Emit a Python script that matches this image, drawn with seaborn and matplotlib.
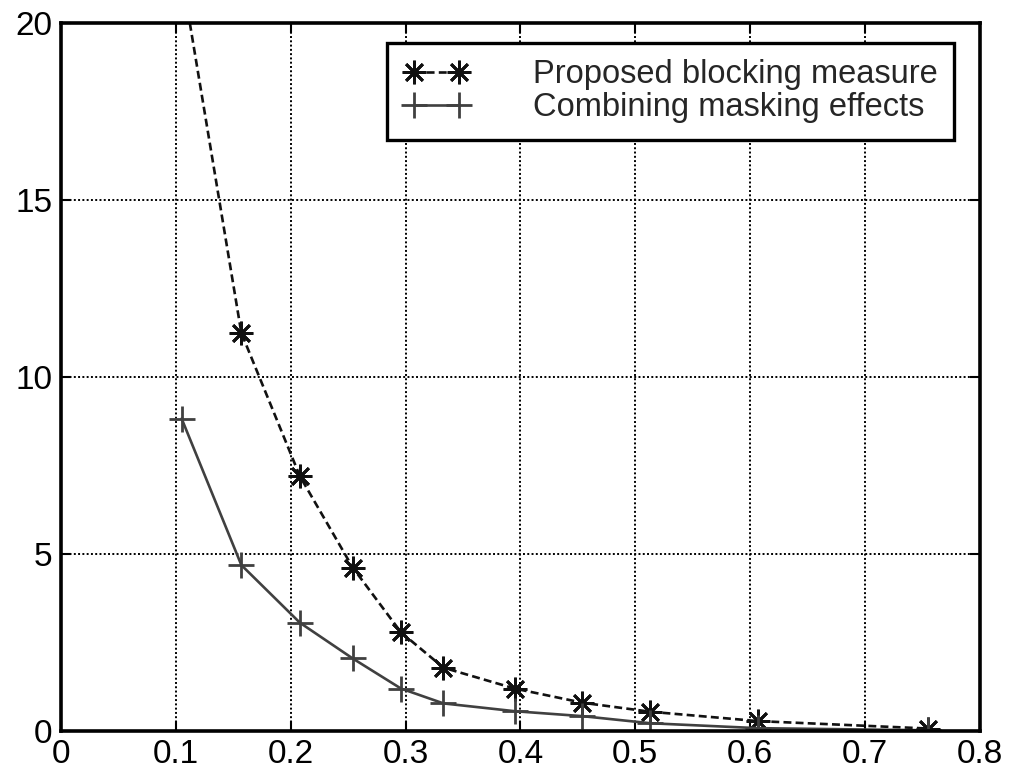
import matplotlib
matplotlib.use("Agg")
import matplotlib.pyplot as plt
import seaborn as sns
import pandas as pd

# Data
x_vals = [0.105, 0.157, 0.208, 0.254, 0.296, 0.333, 0.395, 0.454, 0.513, 0.607, 0.755]
proposed = [21.4, 11.25, 7.2, 4.62, 2.79, 1.79, 1.2, 0.80, 0.545, 0.28, 0.07]
combining = [8.83, 4.69, 3.06, 2.05, 1.2, 0.78, 0.56, 0.42, 0.22, 0.08, 0.02]
series_names = ["Proposed blocking measure", "Combining masking effects"]
x_ticks = [0, 0.1, 0.2, 0.3, 0.4, 0.5, 0.6, 0.7, 0.8]
x_tick_labels = ["0", "0.1", "0.2", "0.3", "0.4", "0.5", "0.6", "0.7", "0.8"]
y_ticks = [0, 5, 10, 15, 20]
y_tick_labels = ["0", "5", "10", "15", "20"]

sns.set_theme(style="white")
plt.rcParams['font.family'] = ['Liberation Sans', 'DejaVu Sans']

fig = plt.figure(figsize=(10.09, 7.78), dpi=100)
ax = fig.add_axes([0.0605, 0.0604, 0.9105, 0.9096])

df1 = pd.DataFrame({"x": x_vals, "y": proposed})
df2 = pd.DataFrame({"x": x_vals, "y": combining})

asterisk = (8, 2, 0)
sns.lineplot(data=df1, x="x", y="y", ax=ax, color="#111111", linewidth=1.9,
             marker=asterisk, markersize=17, markeredgewidth=2.0,
             markeredgecolor="#111111", label=series_names[0], sort=False)
sns.lineplot(data=df2, x="x", y="y", ax=ax, color="#404040", linewidth=1.9,
             marker="+", markersize=19, markeredgewidth=2.0,
             markeredgecolor="#404040", label=series_names[1], sort=False)
ax.lines[0].set_linestyle((0, (3.0, 1.6)))

ax.set_xlim(0, 0.8)
ax.set_ylim(0, 20)
ax.set_xticks(x_ticks)
ax.set_xticklabels(x_tick_labels)
ax.set_yticks(y_ticks)
ax.set_yticklabels(y_tick_labels)
ax.set_xlabel("")
ax.set_ylabel("")

ax.grid(True, color="black", linestyle=(0, (1, 1.2)), linewidth=1.4)
ax.set_axisbelow(True)
for s in ax.spines.values():
    s.set_color("black")
    s.set_linewidth(2.6)
ax.tick_params(axis="both", direction="in", length=7, width=1.5, color="black",
               labelsize=24, labelcolor="black", top=True, right=True,
               bottom=True, left=True, pad=6)

leg = ax.legend(loc="upper right", fontsize=23.5, frameon=True, fancybox=False,
                edgecolor="black", framealpha=1, numpoints=2, handlelength=2.0,
                borderaxespad=0.6, handletextpad=1.95, borderpad=0.5,
                labelspacing=0.06, bbox_to_anchor=(0.993, 1.0))
leg.get_frame().set_linewidth(2.4)

fig.savefig("out.png", dpi=100)
